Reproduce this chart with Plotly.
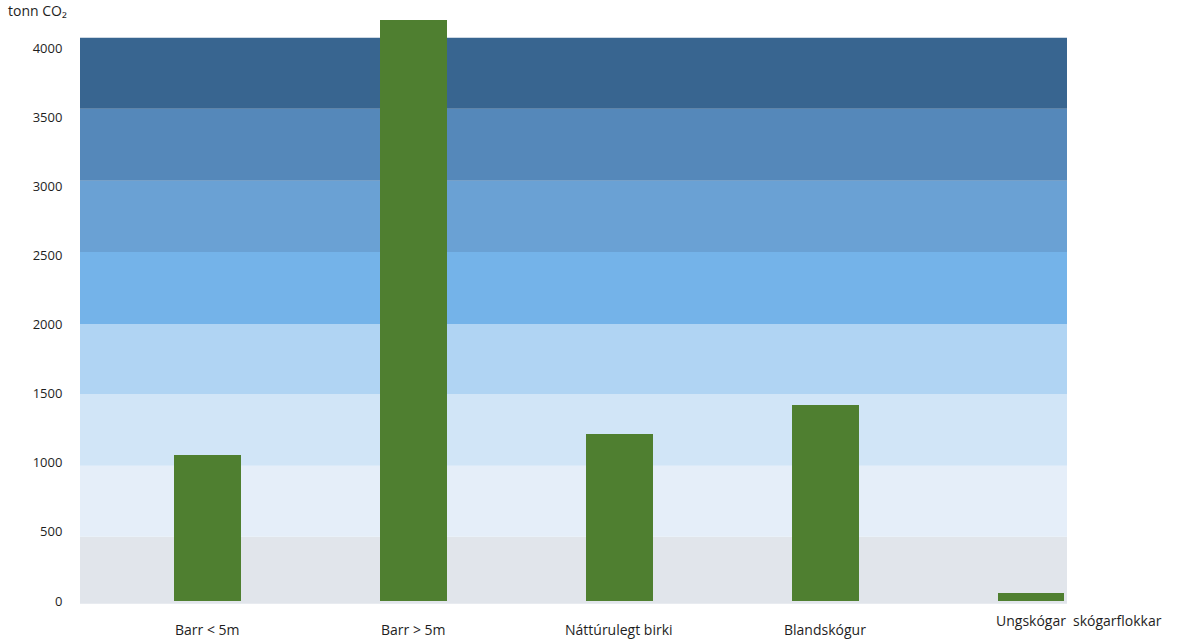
import plotly.graph_objects as go

# Carbon stock per forest type (tonnes CO2)
categories = ["Barr < 5m", "Barr > 5m", "Náttúrulegt birki", "Blandskógur", "Ungskógar"]
values = [1055, 4200, 1205, 1415, 60]

y_ticks = [0, 500, 1000, 1500, 2000, 2500, 3000, 3500, 4000]

# Background colour bands (bottom edge, top edge, colour), light to dark
band_edges = [-20, 465, 978, 1498, 2004, 2525, 3040, 3560, 4075]
band_colors = ["#e1e5eb", "#e5eef9", "#d1e5f7", "#b0d4f3",
               "#74b3e9", "#6aa1d4", "#5588ba", "#386590"]

bar_color = "#4f7f30"
text_color = "#1e1e1e"
font_family = "Open Sans, sans-serif"

fig = go.Figure()

fig.add_trace(go.Bar(
    x=list(range(len(categories))),
    y=values,
    width=0.325,
    marker=dict(color=bar_color, line=dict(width=0)),
    hovertext=categories,
    hoverinfo="text+y",
    showlegend=False,
))

shapes = []
for lo, hi, col in zip(band_edges[:-1], band_edges[1:], band_colors):
    shapes.append(dict(
        type="rect", xref="paper", yref="y",
        x0=0, x1=1, y0=lo, y1=hi,
        fillcolor=col, line=dict(width=0), layer="below",
    ))

# Category labels under the bars; the last one sits beside the axis title
annotations = []
for i, name in enumerate(categories):
    last = i == len(categories) - 1
    annotations.append(dict(
        text=name, x=i, xref="x", y=0, yref="paper",
        xanchor="center", yanchor="middle",
        yshift=-10 if last else -19,
        showarrow=False,
        font=dict(size=14, color=text_color),
    ))

annotations += [
    dict(text="tonn CO₂", xref="paper", yref="paper",
         x=-0.075, y=1.0, xanchor="left", yanchor="bottom",
         yshift=-12, showarrow=False,
         font=dict(size=14, color=text_color)),
    dict(text="skógarflokkar", xref="paper", yref="paper",
         x=1.004, y=0, xanchor="left", yanchor="middle",
         yshift=-10, showarrow=False,
         font=dict(size=14, color=text_color)),
]

fig.update_layout(
    width=1179, height=640,
    margin=dict(l=80, r=112, t=10, b=30),
    paper_bgcolor="white",
    plot_bgcolor="white",
    shapes=shapes,
    annotations=annotations,
    font=dict(family=font_family, color=text_color),
    xaxis=dict(
        range=[-0.62, 4.175],
        showticklabels=False,
        showgrid=False, zeroline=False, showline=False,
        ticks="",
        automargin=False,
        fixedrange=True,
    ),
    yaxis=dict(
        range=[-65, 4275],
        tickmode="array",
        tickvals=y_ticks,
        ticktext=[str(v) for v in y_ticks],
        showgrid=False, zeroline=False, showline=False,
        ticks="outside", ticklen=14, tickcolor="rgba(0,0,0,0)",
        tickfont=dict(size=13, color=text_color),
        automargin=False,
        fixedrange=True,
    ),
    bargap=0,
)

fig.write_html("out.html")
